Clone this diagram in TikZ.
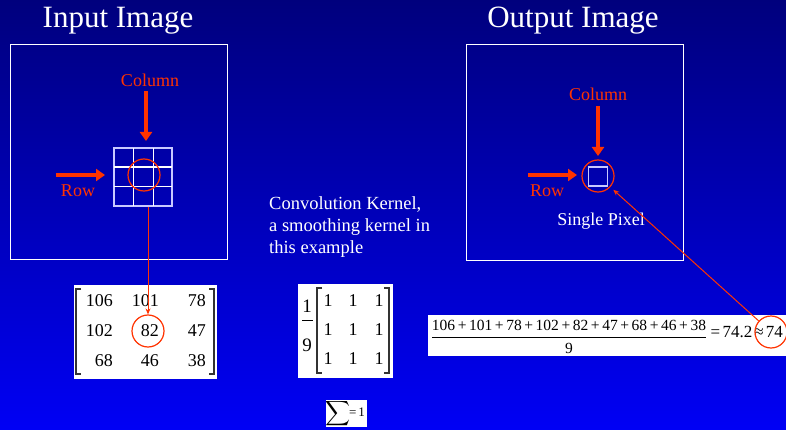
\documentclass[tikz,border=0pt]{standalone}
\usepackage{exscale}
\usepackage{fontspec}
\setmainfont{Liberation Serif}
\usetikzlibrary{arrows.meta}
\definecolor{redor}{RGB}{255,51,0}
\definecolor{bgtop}{RGB}{0,0,125}
\definecolor{bgbot}{RGB}{0,0,245}
\definecolor{gridc}{RGB}{200,200,255}
\begin{document}
\begin{tikzpicture}[x=1pt,y=-1pt,
  title/.style={text=white,font=\fontsize{31}{36}\selectfont,inner sep=0},
  redlabel/.style={text=redor,font=\fontsize{18}{20}\selectfont,inner sep=0},
  whitelabel/.style={text=white,font=\fontsize{18}{20}\selectfont,inner sep=0},
  panel/.style={draw=white,line width=1pt,inner sep=0,anchor=north west},
  bigarrow/.style={draw=redor,line width=4pt,-{Triangle[length=9pt,width=12pt]}},
  thinarrow/.style={draw=redor,line width=1pt,-{Stealth[length=6pt,width=5pt]}},
  ring/.style={draw=redor,line width=1.2pt,circle,minimum size=32pt,inner sep=0},
  whitebox/.style={fill=white,draw=none,inner sep=0,anchor=north west},
  num/.style={font=\fontsize{18}{20}\selectfont,inner sep=0,text=black},
  bracket/.style={draw=black!80,line width=1.3pt},
]
\useasboundingbox (0,0) rectangle (786,430);
\shade[top color=bgtop,bottom color=bgbot] (0,0) rectangle (786,430);

% titles
\node[title] (tin) at (118,21) {Input Image};
\node[title] (tout) at (573,21) {Output Image};

% panels
\node[panel,minimum width=217pt,minimum height=215pt] (inbox) at (10,44) {};
\node[panel,minimum width=217pt,minimum height=216pt] (outbox) at (466,44) {};

% input grid
\node[draw=gridc,line width=1.2pt,minimum size=58pt,inner sep=0] (grid) at (143,177) {};
\draw[white,line width=1.2pt] (133.7,148) -- (133.7,206) (153.7,148) -- (153.7,206)
  (114,167) -- (172,167) (114,186.5) -- (172,186.5);
\node[ring] (incirc) at (144,175) {};

\node[redlabel] (incol) at (150,80) {Column};
\coordinate (incolA) at (146,91);
\coordinate (incolB) at (146,141);
\draw[bigarrow] (incolA) -- (incolB);

\node[redlabel] (inrow) at (78,191) {Row};
\coordinate (inrowA) at (56,175);
\coordinate (inrowB) at (105,175);
\draw[bigarrow] (inrowA) -- (inrowB);

% input matrix
\node[whitebox,minimum width=143pt,minimum height=94pt] (mbox) at (74,285) {};
\draw[bracket] (81,289) -- (76,289) -- (76,374) -- (81,374);
\draw[bracket] (209,289) -- (214,289) -- (214,374) -- (209,374);
\node[num,anchor=east] (m11) at (113,301) {106};
\node[num,anchor=east] (m12) at (159,301) {101};
\node[num,anchor=east] (m13) at (206,301) {78};
\node[num,anchor=east] (m21) at (113,331) {102};
\node[num,anchor=east] (m22) at (159,331) {82};
\node[num,anchor=east] (m23) at (206,331) {47};
\node[num,anchor=east] (m31) at (113,361) {68};
\node[num,anchor=east] (m32) at (159,361) {46};
\node[num,anchor=east] (m33) at (206,361) {38};
\node[ring] (c82) at (148,331) {};
\draw[thinarrow] (grid.south -| c82) -- (c82.north);

% kernel text
\node[text=white,font=\fontsize{18.5}{22}\selectfont,align=left,anchor=north west,inner sep=0] (ktext) at (269,196) {Convolution Kernel,\\a smoothing kernel in\\this example};

% kernel matrix
\node[whitebox,minimum width=95pt,minimum height=94pt] (kbox) at (298,284) {};
\node[num,font=\fontsize{19}{20}\selectfont] (kn) at (307,306) {1};
\draw[black,line width=0.9pt] (302,320) -- (313,320);
\node[num,font=\fontsize{19}{20}\selectfont] (kd) at (307,345) {9};
\draw[bracket] (322,288) -- (317,288) -- (317,373) -- (322,373);
\draw[bracket] (384,288) -- (389,288) -- (389,373) -- (384,373);
\foreach \r/\yy in {1/301,2/330,3/359}{
  \foreach \c/\xx in {1/328,2/353,3/379}{
    \node[num] (k\r\c) at (\xx,\yy) {1};
  }
}

% sum
\node[whitebox,minimum width=41pt,minimum height=27pt] (sbox) at (326,400) {};
\node[inner sep=0,text=black,font=\fontsize{16}{20}\selectfont] (sig) at (337.5,413.5) {$\displaystyle\sum$};
\node[inner sep=0,text=black,font=\fontsize{13}{14}\selectfont] (seq) at (357,412) {=\,1};

% formula
\node[whitebox,minimum width=358pt,minimum height=41pt] (fbox) at (428,315) {};
\node[inner sep=0,text=black,font=\fontsize{15.5}{18}\selectfont] (fnum) at (569,325)
  {106\,+\,101\,+\,78\,+\,102\,+\,82\,+\,47\,+\,68\,+\,46\,+\,38};
\draw[black,line width=0.9pt] (432,337) -- (706,337);
\node[inner sep=0,text=black,font=\fontsize{15.5}{18}\selectfont] (fden) at (569,348) {9};
\node[inner sep=0,text=black,font=\fontsize{17}{18}\selectfont,anchor=east] (fres) at (783,332) {=\hspace{2.5pt}74.2\hspace{2pt}≈\hspace{2pt}74};
\node[ring] (c74) at (771,332) {};

% output
\node[draw=gridc,line width=1.6pt,minimum size=19pt,inner sep=0] (pix) at (598,176.5) {};
\node[ring] (outcirc) at (598,176) {};
\node[redlabel] (outcol) at (598,94) {Column};
\coordinate (outcolA) at (598,106);
\coordinate (outcolB) at (598,156);
\draw[bigarrow] (outcolA) -- (outcolB);
\node[redlabel] (outrow) at (547,191) {Row};
\coordinate (outrowA) at (528,175);
\coordinate (outrowB) at (577,175);
\draw[bigarrow] (outrowA) -- (outrowB);
\node[whitelabel] (single) at (601,221) {Single Pixel};

\draw[thinarrow,shorten >=4pt] (c74) -- (outcirc);
\end{tikzpicture}
\end{document}
